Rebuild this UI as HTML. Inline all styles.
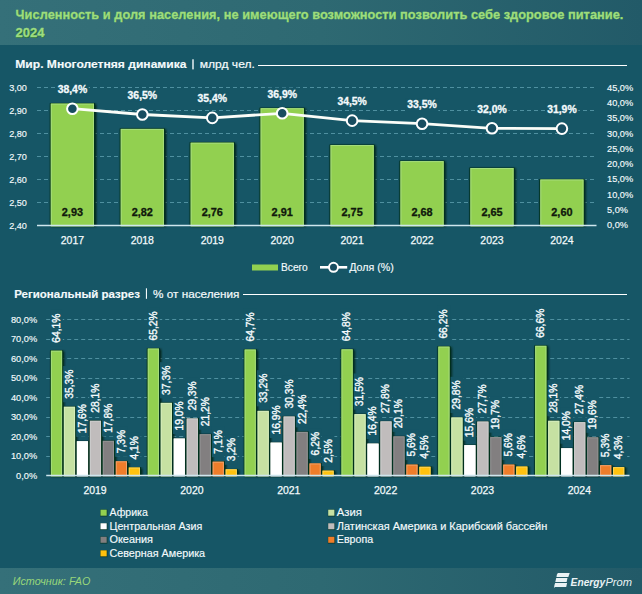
<!DOCTYPE html>
<html><head><meta charset="utf-8"><style>
html,body{margin:0;padding:0;background:#165666;}
body{width:642px;height:594px;overflow:hidden;}
svg{display:block;}
text{font-family:"Liberation Sans", sans-serif;}
</style></head><body>
<svg width="642" height="594" viewBox="0 0 642 594">
<defs>
<linearGradient id="hg" x1="0" y1="0" x2="1" y2="0">
<stop offset="0" stop-color="#357079"/><stop offset="0.5" stop-color="#2e6972"/><stop offset="1" stop-color="#225a68"/>
</linearGradient>
<linearGradient id="fg" x1="0" y1="0" x2="1" y2="0">
<stop offset="0" stop-color="#357079"/><stop offset="0.5" stop-color="#2e6972"/><stop offset="1" stop-color="#225a68"/>
</linearGradient>
<filter id="sh" x="-30%" y="-5%" width="160%" height="110%">
<feGaussianBlur in="SourceAlpha" stdDeviation="1.1"/>
<feOffset dx="1.1" dy="0.8" result="b"/>
<feFlood flood-color="#001f10" flood-opacity="1"/>
<feComposite in2="b" operator="in"/>
<feMerge><feMergeNode/><feMergeNode in="SourceGraphic"/></feMerge>
</filter>
</defs>
<rect x="0" y="0" width="642" height="594" fill="#165666"/>
<rect x="0" y="0" width="642" height="45" fill="url(#hg)"/>
<rect x="0" y="568" width="642" height="26" fill="url(#fg)"/>

<text x="16.2" y="19.3" font-size="13" font-weight="bold" fill="#1d6a30" stroke="#1d6a30" stroke-width="0.2" textLength="607.8" lengthAdjust="spacingAndGlyphs">Численность и доля населения, не имеющего возможности позволить себе здоровое питание.</text>
<text x="16.2" y="37.6" font-size="13" font-weight="bold" fill="#1d6a30" stroke="#1d6a30" stroke-width="0.2" textLength="28.9" lengthAdjust="spacingAndGlyphs">2024</text>
<text x="15.6" y="18.7" font-size="13" font-weight="bold" fill="#9ddc80" stroke="#9ddc80" stroke-width="0.35" textLength="607.8" lengthAdjust="spacingAndGlyphs">Численность и доля населения, не имеющего возможности позволить себе здоровое питание.</text>
<text x="15.6" y="37.0" font-size="13" font-weight="bold" fill="#9ddc80" stroke="#9ddc80" stroke-width="0.35" textLength="28.9" lengthAdjust="spacingAndGlyphs">2024</text>
<text x="15.3" y="68.3" font-size="11.4" font-weight="bold" fill="#f4fafc" stroke="#f4fafc" stroke-width="0.15" textLength="171.2" lengthAdjust="spacingAndGlyphs">Мир. Многолетняя динамика</text>
<rect x="192.3" y="59.3" width="1.4" height="10.1" fill="#f4fafc"/>
<text x="199.7" y="68.3" font-size="11.4" fill="#f4fafc" stroke="#f4fafc" stroke-width="0.2" textLength="55.2" lengthAdjust="spacingAndGlyphs">млрд чел.</text>
<line x1="258" y1="65.5" x2="627" y2="65.5" stroke="#ffffff" stroke-width="1.2"/>
<line x1="37" y1="87.50" x2="596.5" y2="87.50" stroke="#4f90a0" stroke-width="1" stroke-dasharray="4 3"/>
<line x1="37" y1="110.50" x2="596.5" y2="110.50" stroke="#4f90a0" stroke-width="1" stroke-dasharray="4 3"/>
<line x1="37" y1="133.50" x2="596.5" y2="133.50" stroke="#4f90a0" stroke-width="1" stroke-dasharray="4 3"/>
<line x1="37" y1="156.50" x2="596.5" y2="156.50" stroke="#4f90a0" stroke-width="1" stroke-dasharray="4 3"/>
<line x1="37" y1="179.50" x2="596.5" y2="179.50" stroke="#4f90a0" stroke-width="1" stroke-dasharray="4 3"/>
<line x1="37" y1="202.50" x2="596.5" y2="202.50" stroke="#4f90a0" stroke-width="1" stroke-dasharray="4 3"/>
<text x="26.9" y="90.70" font-size="9.7" fill="#f4fafc" stroke="#f4fafc" stroke-width="0.15" text-anchor="end" textLength="17.74" lengthAdjust="spacingAndGlyphs">3,00</text>
<text x="26.9" y="113.70" font-size="9.7" fill="#f4fafc" stroke="#f4fafc" stroke-width="0.15" text-anchor="end" textLength="17.74" lengthAdjust="spacingAndGlyphs">2,90</text>
<text x="26.9" y="136.70" font-size="9.7" fill="#f4fafc" stroke="#f4fafc" stroke-width="0.15" text-anchor="end" textLength="17.74" lengthAdjust="spacingAndGlyphs">2,80</text>
<text x="26.9" y="159.70" font-size="9.7" fill="#f4fafc" stroke="#f4fafc" stroke-width="0.15" text-anchor="end" textLength="17.74" lengthAdjust="spacingAndGlyphs">2,70</text>
<text x="26.9" y="182.70" font-size="9.7" fill="#f4fafc" stroke="#f4fafc" stroke-width="0.15" text-anchor="end" textLength="17.74" lengthAdjust="spacingAndGlyphs">2,60</text>
<text x="26.9" y="205.70" font-size="9.7" fill="#f4fafc" stroke="#f4fafc" stroke-width="0.15" text-anchor="end" textLength="17.74" lengthAdjust="spacingAndGlyphs">2,50</text>
<text x="26.9" y="228.70" font-size="9.7" fill="#f4fafc" stroke="#f4fafc" stroke-width="0.15" text-anchor="end" textLength="17.74" lengthAdjust="spacingAndGlyphs">2,40</text>
<text x="607" y="90.90" font-size="9.7" fill="#f4fafc" stroke="#f4fafc" stroke-width="0.15" textLength="26.13" lengthAdjust="spacingAndGlyphs">45,0%</text>
<text x="607" y="106.16" font-size="9.7" fill="#f4fafc" stroke="#f4fafc" stroke-width="0.15" textLength="26.13" lengthAdjust="spacingAndGlyphs">40,0%</text>
<text x="607" y="121.42" font-size="9.7" fill="#f4fafc" stroke="#f4fafc" stroke-width="0.15" textLength="26.13" lengthAdjust="spacingAndGlyphs">35,0%</text>
<text x="607" y="136.68" font-size="9.7" fill="#f4fafc" stroke="#f4fafc" stroke-width="0.15" textLength="26.13" lengthAdjust="spacingAndGlyphs">30,0%</text>
<text x="607" y="151.94" font-size="9.7" fill="#f4fafc" stroke="#f4fafc" stroke-width="0.15" textLength="26.13" lengthAdjust="spacingAndGlyphs">25,0%</text>
<text x="607" y="167.20" font-size="9.7" fill="#f4fafc" stroke="#f4fafc" stroke-width="0.15" textLength="26.13" lengthAdjust="spacingAndGlyphs">20,0%</text>
<text x="607" y="182.46" font-size="9.7" fill="#f4fafc" stroke="#f4fafc" stroke-width="0.15" textLength="26.13" lengthAdjust="spacingAndGlyphs">15,0%</text>
<text x="607" y="197.72" font-size="9.7" fill="#f4fafc" stroke="#f4fafc" stroke-width="0.15" textLength="26.13" lengthAdjust="spacingAndGlyphs">10,0%</text>
<text x="607" y="212.98" font-size="9.7" fill="#f4fafc" stroke="#f4fafc" stroke-width="0.15" textLength="21.00" lengthAdjust="spacingAndGlyphs">5,0%</text>
<text x="607" y="228.24" font-size="9.7" fill="#f4fafc" stroke="#f4fafc" stroke-width="0.15" textLength="21.00" lengthAdjust="spacingAndGlyphs">0,0%</text>
<rect x="49.80" y="103.10" width="45.3" height="122.40" fill="#06321f" filter="url(#sh)"/>
<rect x="50.80" y="103.60" width="43.2" height="121.90" fill="#92d050"/>
<rect x="51.30" y="104.10" width="42.2" height="121.90" fill="none" stroke="#a6dc7c" stroke-width="1"/>
<text x="72.40" y="215.9" font-size="10.9" font-weight="bold" fill="#10180c" stroke="#10180c" stroke-width="0.3" text-anchor="middle">2,93</text>
<text x="72.40" y="243.6" font-size="10.45" fill="#f4fafc" stroke="#f4fafc" stroke-width="0.25" text-anchor="middle">2017</text>
<rect x="119.73" y="128.40" width="45.3" height="97.10" fill="#06321f" filter="url(#sh)"/>
<rect x="120.73" y="128.90" width="43.2" height="96.60" fill="#92d050"/>
<rect x="121.23" y="129.40" width="42.2" height="96.60" fill="none" stroke="#a6dc7c" stroke-width="1"/>
<text x="142.33" y="215.9" font-size="10.9" font-weight="bold" fill="#10180c" stroke="#10180c" stroke-width="0.3" text-anchor="middle">2,82</text>
<text x="142.33" y="243.6" font-size="10.45" fill="#f4fafc" stroke="#f4fafc" stroke-width="0.25" text-anchor="middle">2018</text>
<rect x="189.66" y="142.20" width="45.3" height="83.30" fill="#06321f" filter="url(#sh)"/>
<rect x="190.66" y="142.70" width="43.2" height="82.80" fill="#92d050"/>
<rect x="191.16" y="143.20" width="42.2" height="82.80" fill="none" stroke="#a6dc7c" stroke-width="1"/>
<text x="212.26" y="215.9" font-size="10.9" font-weight="bold" fill="#10180c" stroke="#10180c" stroke-width="0.3" text-anchor="middle">2,76</text>
<text x="212.26" y="243.6" font-size="10.45" fill="#f4fafc" stroke="#f4fafc" stroke-width="0.25" text-anchor="middle">2019</text>
<rect x="259.59" y="107.70" width="45.3" height="117.80" fill="#06321f" filter="url(#sh)"/>
<rect x="260.59" y="108.20" width="43.2" height="117.30" fill="#92d050"/>
<rect x="261.09" y="108.70" width="42.2" height="117.30" fill="none" stroke="#a6dc7c" stroke-width="1"/>
<text x="282.19" y="215.9" font-size="10.9" font-weight="bold" fill="#10180c" stroke="#10180c" stroke-width="0.3" text-anchor="middle">2,91</text>
<text x="282.19" y="243.6" font-size="10.45" fill="#f4fafc" stroke="#f4fafc" stroke-width="0.25" text-anchor="middle">2020</text>
<rect x="329.52" y="144.50" width="45.3" height="81.00" fill="#06321f" filter="url(#sh)"/>
<rect x="330.52" y="145.00" width="43.2" height="80.50" fill="#92d050"/>
<rect x="331.02" y="145.50" width="42.2" height="80.50" fill="none" stroke="#a6dc7c" stroke-width="1"/>
<text x="352.12" y="215.9" font-size="10.9" font-weight="bold" fill="#10180c" stroke="#10180c" stroke-width="0.3" text-anchor="middle">2,75</text>
<text x="352.12" y="243.6" font-size="10.45" fill="#f4fafc" stroke="#f4fafc" stroke-width="0.25" text-anchor="middle">2021</text>
<rect x="399.45" y="160.60" width="45.3" height="64.90" fill="#06321f" filter="url(#sh)"/>
<rect x="400.45" y="161.10" width="43.2" height="64.40" fill="#92d050"/>
<rect x="400.95" y="161.60" width="42.2" height="64.40" fill="none" stroke="#a6dc7c" stroke-width="1"/>
<text x="422.05" y="215.9" font-size="10.9" font-weight="bold" fill="#10180c" stroke="#10180c" stroke-width="0.3" text-anchor="middle">2,68</text>
<text x="422.05" y="243.6" font-size="10.45" fill="#f4fafc" stroke="#f4fafc" stroke-width="0.25" text-anchor="middle">2022</text>
<rect x="469.38" y="167.50" width="45.3" height="58.00" fill="#06321f" filter="url(#sh)"/>
<rect x="470.38" y="168.00" width="43.2" height="57.50" fill="#92d050"/>
<rect x="470.88" y="168.50" width="42.2" height="57.50" fill="none" stroke="#a6dc7c" stroke-width="1"/>
<text x="491.98" y="215.9" font-size="10.9" font-weight="bold" fill="#10180c" stroke="#10180c" stroke-width="0.3" text-anchor="middle">2,65</text>
<text x="491.98" y="243.6" font-size="10.45" fill="#f4fafc" stroke="#f4fafc" stroke-width="0.25" text-anchor="middle">2023</text>
<rect x="539.31" y="179.00" width="45.3" height="46.50" fill="#06321f" filter="url(#sh)"/>
<rect x="540.31" y="179.50" width="43.2" height="46.00" fill="#92d050"/>
<rect x="540.81" y="180.00" width="42.2" height="46.00" fill="none" stroke="#a6dc7c" stroke-width="1"/>
<text x="561.91" y="215.9" font-size="10.9" font-weight="bold" fill="#10180c" stroke="#10180c" stroke-width="0.3" text-anchor="middle">2,60</text>
<text x="561.91" y="243.6" font-size="10.45" fill="#f4fafc" stroke="#f4fafc" stroke-width="0.25" text-anchor="middle">2024</text>
<line x1="37" y1="225.5" x2="596.5" y2="225.5" stroke="#cfe6ee" stroke-width="1.4"/>
<polyline points="72.40,108.69 142.33,114.52 212.26,117.89 282.19,113.29 352.12,120.65 422.05,123.72 491.98,128.32 561.91,128.62" fill="none" stroke="#fbfdf8" stroke-width="2.8" stroke-linejoin="round"/>
<circle cx="72.40" cy="108.69" r="5.3" fill="#184d60" stroke="#ffffff" stroke-width="2"/>
<rect x="56.16" y="82.99" width="32.49" height="13" fill="#165666"/>
<text x="72.40" y="92.99" font-size="10.4" font-weight="bold" fill="#f4fafc" stroke="#f4fafc" stroke-width="0.3" text-anchor="middle">38,4%</text>
<circle cx="142.33" cy="114.52" r="5.3" fill="#184d60" stroke="#ffffff" stroke-width="2"/>
<rect x="126.09" y="88.82" width="32.49" height="13" fill="#165666"/>
<text x="142.33" y="98.82" font-size="10.4" font-weight="bold" fill="#f4fafc" stroke="#f4fafc" stroke-width="0.3" text-anchor="middle">36,5%</text>
<circle cx="212.26" cy="117.89" r="5.3" fill="#184d60" stroke="#ffffff" stroke-width="2"/>
<rect x="196.02" y="92.19" width="32.49" height="13" fill="#165666"/>
<text x="212.26" y="102.19" font-size="10.4" font-weight="bold" fill="#f4fafc" stroke="#f4fafc" stroke-width="0.3" text-anchor="middle">35,4%</text>
<circle cx="282.19" cy="113.29" r="5.3" fill="#184d60" stroke="#ffffff" stroke-width="2"/>
<rect x="265.95" y="87.59" width="32.49" height="13" fill="#165666"/>
<text x="282.19" y="97.59" font-size="10.4" font-weight="bold" fill="#f4fafc" stroke="#f4fafc" stroke-width="0.3" text-anchor="middle">36,9%</text>
<circle cx="352.12" cy="120.65" r="5.3" fill="#184d60" stroke="#ffffff" stroke-width="2"/>
<rect x="335.88" y="94.95" width="32.49" height="13" fill="#165666"/>
<text x="352.12" y="104.95" font-size="10.4" font-weight="bold" fill="#f4fafc" stroke="#f4fafc" stroke-width="0.3" text-anchor="middle">34,5%</text>
<circle cx="422.05" cy="123.72" r="5.3" fill="#184d60" stroke="#ffffff" stroke-width="2"/>
<rect x="405.81" y="98.02" width="32.49" height="13" fill="#165666"/>
<text x="422.05" y="108.02" font-size="10.4" font-weight="bold" fill="#f4fafc" stroke="#f4fafc" stroke-width="0.3" text-anchor="middle">33,5%</text>
<circle cx="491.98" cy="128.32" r="5.3" fill="#184d60" stroke="#ffffff" stroke-width="2"/>
<rect x="475.74" y="102.62" width="32.49" height="13" fill="#165666"/>
<text x="491.98" y="112.62" font-size="10.4" font-weight="bold" fill="#f4fafc" stroke="#f4fafc" stroke-width="0.3" text-anchor="middle">32,0%</text>
<circle cx="561.91" cy="128.62" r="5.3" fill="#184d60" stroke="#ffffff" stroke-width="2"/>
<rect x="545.67" y="102.92" width="32.49" height="13" fill="#165666"/>
<text x="561.91" y="112.92" font-size="10.4" font-weight="bold" fill="#f4fafc" stroke="#f4fafc" stroke-width="0.3" text-anchor="middle">31,9%</text>
<rect x="252" y="264.5" width="26" height="6" fill="#92d050"/>
<text x="281" y="270.7" font-size="10.2" fill="#f4fafc" stroke="#f4fafc" stroke-width="0.15">Всего</text>
<line x1="320" y1="267.3" x2="347.2" y2="267.3" stroke="#fff" stroke-width="2.6"/>
<circle cx="333.5" cy="267.3" r="4.5" fill="#184d60" stroke="#fff" stroke-width="2"/>
<text x="349.2" y="270.7" font-size="10.7" fill="#f4fafc" stroke="#f4fafc" stroke-width="0.15">Доля (%)</text>
<text x="14.2" y="297.6" font-size="11.4" font-weight="bold" fill="#f4fafc" stroke="#f4fafc" stroke-width="0.15" textLength="125.7" lengthAdjust="spacingAndGlyphs">Региональный разрез</text>
<rect x="145.9" y="288.3" width="1.1" height="10.5" fill="#f4fafc"/>
<text x="153.1" y="297.6" font-size="11.4" fill="#f4fafc" stroke="#f4fafc" stroke-width="0.2" textLength="86.3" lengthAdjust="spacingAndGlyphs">% от населения</text>
<line x1="243" y1="294.5" x2="627" y2="294.5" stroke="#ffffff" stroke-width="1.2"/>
<line x1="46.2" y1="319.50" x2="629.5" y2="319.50" stroke="#4f90a0" stroke-width="1" stroke-dasharray="4 3"/>
<line x1="46.2" y1="339.50" x2="629.5" y2="339.50" stroke="#4f90a0" stroke-width="1" stroke-dasharray="4 3"/>
<line x1="46.2" y1="358.50" x2="629.5" y2="358.50" stroke="#4f90a0" stroke-width="1" stroke-dasharray="4 3"/>
<line x1="46.2" y1="378.50" x2="629.5" y2="378.50" stroke="#4f90a0" stroke-width="1" stroke-dasharray="4 3"/>
<line x1="46.2" y1="397.50" x2="629.5" y2="397.50" stroke="#4f90a0" stroke-width="1" stroke-dasharray="4 3"/>
<line x1="46.2" y1="417.50" x2="629.5" y2="417.50" stroke="#4f90a0" stroke-width="1" stroke-dasharray="4 3"/>
<line x1="46.2" y1="436.50" x2="629.5" y2="436.50" stroke="#4f90a0" stroke-width="1" stroke-dasharray="4 3"/>
<line x1="46.2" y1="456.50" x2="629.5" y2="456.50" stroke="#4f90a0" stroke-width="1" stroke-dasharray="4 3"/>
<text x="37.2" y="322.94" font-size="9.7" fill="#f4fafc" stroke="#f4fafc" stroke-width="0.15" text-anchor="end" textLength="26.26" lengthAdjust="spacingAndGlyphs">80,0%</text>
<text x="37.2" y="342.41" font-size="9.7" fill="#f4fafc" stroke="#f4fafc" stroke-width="0.15" text-anchor="end" textLength="26.26" lengthAdjust="spacingAndGlyphs">70,0%</text>
<text x="37.2" y="361.88" font-size="9.7" fill="#f4fafc" stroke="#f4fafc" stroke-width="0.15" text-anchor="end" textLength="26.26" lengthAdjust="spacingAndGlyphs">60,0%</text>
<text x="37.2" y="381.35" font-size="9.7" fill="#f4fafc" stroke="#f4fafc" stroke-width="0.15" text-anchor="end" textLength="26.26" lengthAdjust="spacingAndGlyphs">50,0%</text>
<text x="37.2" y="400.82" font-size="9.7" fill="#f4fafc" stroke="#f4fafc" stroke-width="0.15" text-anchor="end" textLength="26.26" lengthAdjust="spacingAndGlyphs">40,0%</text>
<text x="37.2" y="420.29" font-size="9.7" fill="#f4fafc" stroke="#f4fafc" stroke-width="0.15" text-anchor="end" textLength="26.26" lengthAdjust="spacingAndGlyphs">30,0%</text>
<text x="37.2" y="439.76" font-size="9.7" fill="#f4fafc" stroke="#f4fafc" stroke-width="0.15" text-anchor="end" textLength="26.26" lengthAdjust="spacingAndGlyphs">20,0%</text>
<text x="37.2" y="459.23" font-size="9.7" fill="#f4fafc" stroke="#f4fafc" stroke-width="0.15" text-anchor="end" textLength="26.26" lengthAdjust="spacingAndGlyphs">10,0%</text>
<text x="37.2" y="478.70" font-size="9.7" fill="#f4fafc" stroke="#f4fafc" stroke-width="0.15" text-anchor="end" textLength="21.11" lengthAdjust="spacingAndGlyphs">0,0%</text>
<rect x="50.00" y="350.30" width="13.2" height="125.20" fill="#06321f" filter="url(#sh)"/>
<rect x="50.90" y="350.70" width="11.2" height="124.80" fill="#92d050"/>
<rect x="51.40" y="351.20" width="10.2" height="124.80" fill="none" stroke="#a6dc7c" stroke-width="1"/>
<rect x="50.20" y="309.99" width="12.6" height="36.20" fill="#165666"/>
<text transform="translate(59.90,342.70) rotate(-90)" font-size="10.3" fill="#f4fafc" stroke="#f4fafc" stroke-width="0.38">64,1%</text>
<rect x="62.98" y="406.37" width="13.2" height="69.13" fill="#06321f" filter="url(#sh)"/>
<rect x="63.88" y="406.77" width="11.2" height="68.73" fill="#c6e1a2"/>
<rect x="64.38" y="407.27" width="10.2" height="68.73" fill="none" stroke="#d6ecbc" stroke-width="1"/>
<rect x="63.18" y="366.07" width="12.6" height="36.20" fill="#165666"/>
<text transform="translate(72.88,398.77) rotate(-90)" font-size="10.3" fill="#f4fafc" stroke="#f4fafc" stroke-width="0.38">35,3%</text>
<rect x="75.96" y="440.83" width="13.2" height="34.67" fill="#06321f" filter="url(#sh)"/>
<rect x="76.86" y="441.23" width="11.2" height="34.27" fill="#ffffff"/>
<rect x="77.36" y="441.73" width="10.2" height="34.27" fill="none" stroke="#ffffff" stroke-width="1"/>
<rect x="76.16" y="400.53" width="12.6" height="36.20" fill="#165666"/>
<text transform="translate(85.86,433.23) rotate(-90)" font-size="10.3" fill="#f4fafc" stroke="#f4fafc" stroke-width="0.38">17,6%</text>
<rect x="88.94" y="420.39" width="13.2" height="55.11" fill="#06321f" filter="url(#sh)"/>
<rect x="89.84" y="420.79" width="11.2" height="54.71" fill="#c0bcbc"/>
<rect x="90.34" y="421.29" width="10.2" height="54.71" fill="none" stroke="#cccccc" stroke-width="1"/>
<rect x="89.14" y="380.09" width="12.6" height="36.20" fill="#165666"/>
<text transform="translate(98.84,412.79) rotate(-90)" font-size="10.3" fill="#f4fafc" stroke="#f4fafc" stroke-width="0.38">28,1%</text>
<rect x="101.92" y="440.44" width="13.2" height="35.06" fill="#06321f" filter="url(#sh)"/>
<rect x="102.82" y="440.84" width="11.2" height="34.66" fill="#827f80"/>
<rect x="103.32" y="441.34" width="10.2" height="34.66" fill="none" stroke="#929292" stroke-width="1"/>
<rect x="102.12" y="400.14" width="12.6" height="36.20" fill="#165666"/>
<text transform="translate(111.82,432.84) rotate(-90)" font-size="10.3" fill="#f4fafc" stroke="#f4fafc" stroke-width="0.38">17,8%</text>
<rect x="114.90" y="460.89" width="13.2" height="14.61" fill="#06321f" filter="url(#sh)"/>
<rect x="115.80" y="461.29" width="11.2" height="14.21" fill="#ef7d2a"/>
<rect x="116.30" y="461.79" width="10.2" height="14.21" fill="none" stroke="#f2a06a" stroke-width="1"/>
<rect x="115.10" y="426.31" width="12.6" height="30.48" fill="#165666"/>
<text transform="translate(124.80,453.29) rotate(-90)" font-size="10.3" fill="#f4fafc" stroke="#f4fafc" stroke-width="0.38">7,3%</text>
<rect x="127.88" y="467.12" width="13.2" height="8.38" fill="#06321f" filter="url(#sh)"/>
<rect x="128.78" y="467.52" width="11.2" height="7.98" fill="#ffc20e"/>
<rect x="129.28" y="468.02" width="10.2" height="7.98" fill="none" stroke="#fbd35a" stroke-width="1"/>
<rect x="128.08" y="432.54" width="12.6" height="30.48" fill="#165666"/>
<text transform="translate(137.78,459.52) rotate(-90)" font-size="10.3" fill="#f4fafc" stroke="#f4fafc" stroke-width="0.38">4,1%</text>
<text x="95.05" y="493.6" font-size="10.45" fill="#f4fafc" stroke="#f4fafc" stroke-width="0.25" text-anchor="middle">2019</text>
<rect x="146.86" y="348.16" width="13.2" height="127.34" fill="#06321f" filter="url(#sh)"/>
<rect x="147.76" y="348.56" width="11.2" height="126.94" fill="#92d050"/>
<rect x="148.26" y="349.06" width="10.2" height="126.94" fill="none" stroke="#a6dc7c" stroke-width="1"/>
<rect x="147.06" y="307.85" width="12.6" height="36.20" fill="#165666"/>
<text transform="translate(156.76,340.56) rotate(-90)" font-size="10.3" fill="#f4fafc" stroke="#f4fafc" stroke-width="0.38">65,2%</text>
<rect x="159.84" y="402.48" width="13.2" height="73.02" fill="#06321f" filter="url(#sh)"/>
<rect x="160.74" y="402.88" width="11.2" height="72.62" fill="#c6e1a2"/>
<rect x="161.24" y="403.38" width="10.2" height="72.62" fill="none" stroke="#d6ecbc" stroke-width="1"/>
<rect x="160.04" y="362.17" width="12.6" height="36.20" fill="#165666"/>
<text transform="translate(169.74,394.88) rotate(-90)" font-size="10.3" fill="#f4fafc" stroke="#f4fafc" stroke-width="0.38">37,3%</text>
<rect x="172.82" y="438.11" width="13.2" height="37.39" fill="#06321f" filter="url(#sh)"/>
<rect x="173.72" y="438.51" width="11.2" height="36.99" fill="#ffffff"/>
<rect x="174.22" y="439.01" width="10.2" height="36.99" fill="none" stroke="#ffffff" stroke-width="1"/>
<rect x="173.02" y="397.80" width="12.6" height="36.20" fill="#165666"/>
<text transform="translate(182.72,430.51) rotate(-90)" font-size="10.3" fill="#f4fafc" stroke="#f4fafc" stroke-width="0.38">19,0%</text>
<rect x="185.80" y="418.05" width="13.2" height="57.45" fill="#06321f" filter="url(#sh)"/>
<rect x="186.70" y="418.45" width="11.2" height="57.05" fill="#c0bcbc"/>
<rect x="187.20" y="418.95" width="10.2" height="57.05" fill="none" stroke="#cccccc" stroke-width="1"/>
<rect x="186.00" y="377.75" width="12.6" height="36.20" fill="#165666"/>
<text transform="translate(195.70,410.45) rotate(-90)" font-size="10.3" fill="#f4fafc" stroke="#f4fafc" stroke-width="0.38">29,3%</text>
<rect x="198.78" y="433.82" width="13.2" height="41.68" fill="#06321f" filter="url(#sh)"/>
<rect x="199.68" y="434.22" width="11.2" height="41.28" fill="#827f80"/>
<rect x="200.18" y="434.72" width="10.2" height="41.28" fill="none" stroke="#929292" stroke-width="1"/>
<rect x="198.98" y="393.52" width="12.6" height="36.20" fill="#165666"/>
<text transform="translate(208.68,426.22) rotate(-90)" font-size="10.3" fill="#f4fafc" stroke="#f4fafc" stroke-width="0.38">21,2%</text>
<rect x="211.76" y="461.28" width="13.2" height="14.22" fill="#06321f" filter="url(#sh)"/>
<rect x="212.66" y="461.68" width="11.2" height="13.82" fill="#ef7d2a"/>
<rect x="213.16" y="462.18" width="10.2" height="13.82" fill="none" stroke="#f2a06a" stroke-width="1"/>
<rect x="211.96" y="426.70" width="12.6" height="30.48" fill="#165666"/>
<text transform="translate(221.66,453.68) rotate(-90)" font-size="10.3" fill="#f4fafc" stroke="#f4fafc" stroke-width="0.38">7,1%</text>
<rect x="224.74" y="468.87" width="13.2" height="6.63" fill="#06321f" filter="url(#sh)"/>
<rect x="225.64" y="469.27" width="11.2" height="6.23" fill="#ffc20e"/>
<rect x="226.14" y="469.77" width="10.2" height="6.23" fill="none" stroke="#fbd35a" stroke-width="1"/>
<rect x="224.94" y="434.29" width="12.6" height="30.48" fill="#165666"/>
<text transform="translate(234.64,461.27) rotate(-90)" font-size="10.3" fill="#f4fafc" stroke="#f4fafc" stroke-width="0.38">3,2%</text>
<text x="191.91" y="493.6" font-size="10.45" fill="#f4fafc" stroke="#f4fafc" stroke-width="0.25" text-anchor="middle">2020</text>
<rect x="243.72" y="349.13" width="13.2" height="126.37" fill="#06321f" filter="url(#sh)"/>
<rect x="244.62" y="349.53" width="11.2" height="125.97" fill="#92d050"/>
<rect x="245.12" y="350.03" width="10.2" height="125.97" fill="none" stroke="#a6dc7c" stroke-width="1"/>
<rect x="243.92" y="308.83" width="12.6" height="36.20" fill="#165666"/>
<text transform="translate(253.62,341.53) rotate(-90)" font-size="10.3" fill="#f4fafc" stroke="#f4fafc" stroke-width="0.38">64,7%</text>
<rect x="256.70" y="410.46" width="13.2" height="65.04" fill="#06321f" filter="url(#sh)"/>
<rect x="257.60" y="410.86" width="11.2" height="64.64" fill="#c6e1a2"/>
<rect x="258.10" y="411.36" width="10.2" height="64.64" fill="none" stroke="#d6ecbc" stroke-width="1"/>
<rect x="256.90" y="370.16" width="12.6" height="36.20" fill="#165666"/>
<text transform="translate(266.60,402.86) rotate(-90)" font-size="10.3" fill="#f4fafc" stroke="#f4fafc" stroke-width="0.38">33,2%</text>
<rect x="269.68" y="442.20" width="13.2" height="33.30" fill="#06321f" filter="url(#sh)"/>
<rect x="270.58" y="442.60" width="11.2" height="32.90" fill="#ffffff"/>
<rect x="271.08" y="443.10" width="10.2" height="32.90" fill="none" stroke="#ffffff" stroke-width="1"/>
<rect x="269.88" y="401.89" width="12.6" height="36.20" fill="#165666"/>
<text transform="translate(279.58,434.60) rotate(-90)" font-size="10.3" fill="#f4fafc" stroke="#f4fafc" stroke-width="0.38">16,9%</text>
<rect x="282.66" y="416.11" width="13.2" height="59.39" fill="#06321f" filter="url(#sh)"/>
<rect x="283.56" y="416.51" width="11.2" height="58.99" fill="#c0bcbc"/>
<rect x="284.06" y="417.01" width="10.2" height="58.99" fill="none" stroke="#cccccc" stroke-width="1"/>
<rect x="282.86" y="375.80" width="12.6" height="36.20" fill="#165666"/>
<text transform="translate(292.56,408.51) rotate(-90)" font-size="10.3" fill="#f4fafc" stroke="#f4fafc" stroke-width="0.38">30,3%</text>
<rect x="295.64" y="431.49" width="13.2" height="44.01" fill="#06321f" filter="url(#sh)"/>
<rect x="296.54" y="431.89" width="11.2" height="43.61" fill="#827f80"/>
<rect x="297.04" y="432.39" width="10.2" height="43.61" fill="none" stroke="#929292" stroke-width="1"/>
<rect x="295.84" y="391.18" width="12.6" height="36.20" fill="#165666"/>
<text transform="translate(305.54,423.89) rotate(-90)" font-size="10.3" fill="#f4fafc" stroke="#f4fafc" stroke-width="0.38">22,4%</text>
<rect x="308.62" y="463.03" width="13.2" height="12.47" fill="#06321f" filter="url(#sh)"/>
<rect x="309.52" y="463.43" width="11.2" height="12.07" fill="#ef7d2a"/>
<rect x="310.02" y="463.93" width="10.2" height="12.07" fill="none" stroke="#f2a06a" stroke-width="1"/>
<rect x="308.82" y="428.45" width="12.6" height="30.48" fill="#165666"/>
<text transform="translate(318.52,455.43) rotate(-90)" font-size="10.3" fill="#f4fafc" stroke="#f4fafc" stroke-width="0.38">6,2%</text>
<rect x="321.60" y="470.23" width="13.2" height="5.27" fill="#06321f" filter="url(#sh)"/>
<rect x="322.50" y="470.63" width="11.2" height="4.87" fill="#ffc20e"/>
<rect x="323.00" y="471.13" width="10.2" height="4.87" fill="none" stroke="#fbd35a" stroke-width="1"/>
<rect x="321.80" y="435.66" width="12.6" height="30.48" fill="#165666"/>
<text transform="translate(331.50,462.63) rotate(-90)" font-size="10.3" fill="#f4fafc" stroke="#f4fafc" stroke-width="0.38">2,5%</text>
<text x="288.77" y="493.6" font-size="10.45" fill="#f4fafc" stroke="#f4fafc" stroke-width="0.25" text-anchor="middle">2021</text>
<rect x="340.58" y="348.93" width="13.2" height="126.57" fill="#06321f" filter="url(#sh)"/>
<rect x="341.48" y="349.33" width="11.2" height="126.17" fill="#92d050"/>
<rect x="341.98" y="349.83" width="10.2" height="126.17" fill="none" stroke="#a6dc7c" stroke-width="1"/>
<rect x="340.78" y="308.63" width="12.6" height="36.20" fill="#165666"/>
<text transform="translate(350.48,341.33) rotate(-90)" font-size="10.3" fill="#f4fafc" stroke="#f4fafc" stroke-width="0.38">64,8%</text>
<rect x="353.56" y="413.77" width="13.2" height="61.73" fill="#06321f" filter="url(#sh)"/>
<rect x="354.46" y="414.17" width="11.2" height="61.33" fill="#c6e1a2"/>
<rect x="354.96" y="414.67" width="10.2" height="61.33" fill="none" stroke="#d6ecbc" stroke-width="1"/>
<rect x="353.76" y="373.47" width="12.6" height="36.20" fill="#165666"/>
<text transform="translate(363.46,406.17) rotate(-90)" font-size="10.3" fill="#f4fafc" stroke="#f4fafc" stroke-width="0.38">31,5%</text>
<rect x="366.54" y="443.17" width="13.2" height="32.33" fill="#06321f" filter="url(#sh)"/>
<rect x="367.44" y="443.57" width="11.2" height="31.93" fill="#ffffff"/>
<rect x="367.94" y="444.07" width="10.2" height="31.93" fill="none" stroke="#ffffff" stroke-width="1"/>
<rect x="366.74" y="402.87" width="12.6" height="36.20" fill="#165666"/>
<text transform="translate(376.44,435.57) rotate(-90)" font-size="10.3" fill="#f4fafc" stroke="#f4fafc" stroke-width="0.38">16,4%</text>
<rect x="379.52" y="420.97" width="13.2" height="54.53" fill="#06321f" filter="url(#sh)"/>
<rect x="380.42" y="421.37" width="11.2" height="54.13" fill="#c0bcbc"/>
<rect x="380.92" y="421.87" width="10.2" height="54.13" fill="none" stroke="#cccccc" stroke-width="1"/>
<rect x="379.72" y="380.67" width="12.6" height="36.20" fill="#165666"/>
<text transform="translate(389.42,413.37) rotate(-90)" font-size="10.3" fill="#f4fafc" stroke="#f4fafc" stroke-width="0.38">27,8%</text>
<rect x="392.50" y="435.97" width="13.2" height="39.53" fill="#06321f" filter="url(#sh)"/>
<rect x="393.40" y="436.37" width="11.2" height="39.13" fill="#827f80"/>
<rect x="393.90" y="436.87" width="10.2" height="39.13" fill="none" stroke="#929292" stroke-width="1"/>
<rect x="392.70" y="395.66" width="12.6" height="36.20" fill="#165666"/>
<text transform="translate(402.40,428.37) rotate(-90)" font-size="10.3" fill="#f4fafc" stroke="#f4fafc" stroke-width="0.38">20,1%</text>
<rect x="405.48" y="464.20" width="13.2" height="11.30" fill="#06321f" filter="url(#sh)"/>
<rect x="406.38" y="464.60" width="11.2" height="10.90" fill="#ef7d2a"/>
<rect x="406.88" y="465.10" width="10.2" height="10.90" fill="none" stroke="#f2a06a" stroke-width="1"/>
<rect x="405.68" y="429.62" width="12.6" height="30.48" fill="#165666"/>
<text transform="translate(415.38,456.60) rotate(-90)" font-size="10.3" fill="#f4fafc" stroke="#f4fafc" stroke-width="0.38">5,6%</text>
<rect x="418.46" y="466.34" width="13.2" height="9.16" fill="#06321f" filter="url(#sh)"/>
<rect x="419.36" y="466.74" width="11.2" height="8.76" fill="#ffc20e"/>
<rect x="419.86" y="467.24" width="10.2" height="8.76" fill="none" stroke="#fbd35a" stroke-width="1"/>
<rect x="418.66" y="431.76" width="12.6" height="30.48" fill="#165666"/>
<text transform="translate(428.36,458.74) rotate(-90)" font-size="10.3" fill="#f4fafc" stroke="#f4fafc" stroke-width="0.38">4,5%</text>
<text x="385.63" y="493.6" font-size="10.45" fill="#f4fafc" stroke="#f4fafc" stroke-width="0.25" text-anchor="middle">2022</text>
<rect x="437.44" y="346.21" width="13.2" height="129.29" fill="#06321f" filter="url(#sh)"/>
<rect x="438.34" y="346.61" width="11.2" height="128.89" fill="#92d050"/>
<rect x="438.84" y="347.11" width="10.2" height="128.89" fill="none" stroke="#a6dc7c" stroke-width="1"/>
<rect x="437.64" y="305.90" width="12.6" height="36.20" fill="#165666"/>
<text transform="translate(447.34,338.61) rotate(-90)" font-size="10.3" fill="#f4fafc" stroke="#f4fafc" stroke-width="0.38">66,2%</text>
<rect x="450.42" y="417.08" width="13.2" height="58.42" fill="#06321f" filter="url(#sh)"/>
<rect x="451.32" y="417.48" width="11.2" height="58.02" fill="#c6e1a2"/>
<rect x="451.82" y="417.98" width="10.2" height="58.02" fill="none" stroke="#d6ecbc" stroke-width="1"/>
<rect x="450.62" y="376.78" width="12.6" height="36.20" fill="#165666"/>
<text transform="translate(460.32,409.48) rotate(-90)" font-size="10.3" fill="#f4fafc" stroke="#f4fafc" stroke-width="0.38">29,8%</text>
<rect x="463.40" y="444.73" width="13.2" height="30.77" fill="#06321f" filter="url(#sh)"/>
<rect x="464.30" y="445.13" width="11.2" height="30.37" fill="#ffffff"/>
<rect x="464.80" y="445.63" width="10.2" height="30.37" fill="none" stroke="#ffffff" stroke-width="1"/>
<rect x="463.60" y="404.42" width="12.6" height="36.20" fill="#165666"/>
<text transform="translate(473.30,437.13) rotate(-90)" font-size="10.3" fill="#f4fafc" stroke="#f4fafc" stroke-width="0.38">15,6%</text>
<rect x="476.38" y="421.17" width="13.2" height="54.33" fill="#06321f" filter="url(#sh)"/>
<rect x="477.28" y="421.57" width="11.2" height="53.93" fill="#c0bcbc"/>
<rect x="477.78" y="422.07" width="10.2" height="53.93" fill="none" stroke="#cccccc" stroke-width="1"/>
<rect x="476.58" y="380.86" width="12.6" height="36.20" fill="#165666"/>
<text transform="translate(486.28,413.57) rotate(-90)" font-size="10.3" fill="#f4fafc" stroke="#f4fafc" stroke-width="0.38">27,7%</text>
<rect x="489.36" y="436.74" width="13.2" height="38.76" fill="#06321f" filter="url(#sh)"/>
<rect x="490.26" y="437.14" width="11.2" height="38.36" fill="#827f80"/>
<rect x="490.76" y="437.64" width="10.2" height="38.36" fill="none" stroke="#929292" stroke-width="1"/>
<rect x="489.56" y="396.44" width="12.6" height="36.20" fill="#165666"/>
<text transform="translate(499.26,429.14) rotate(-90)" font-size="10.3" fill="#f4fafc" stroke="#f4fafc" stroke-width="0.38">19,7%</text>
<rect x="502.34" y="464.20" width="13.2" height="11.30" fill="#06321f" filter="url(#sh)"/>
<rect x="503.24" y="464.60" width="11.2" height="10.90" fill="#ef7d2a"/>
<rect x="503.74" y="465.10" width="10.2" height="10.90" fill="none" stroke="#f2a06a" stroke-width="1"/>
<rect x="502.54" y="429.62" width="12.6" height="30.48" fill="#165666"/>
<text transform="translate(512.24,456.60) rotate(-90)" font-size="10.3" fill="#f4fafc" stroke="#f4fafc" stroke-width="0.38">5,6%</text>
<rect x="515.32" y="466.14" width="13.2" height="9.36" fill="#06321f" filter="url(#sh)"/>
<rect x="516.22" y="466.54" width="11.2" height="8.96" fill="#ffc20e"/>
<rect x="516.72" y="467.04" width="10.2" height="8.96" fill="none" stroke="#fbd35a" stroke-width="1"/>
<rect x="515.52" y="431.57" width="12.6" height="30.48" fill="#165666"/>
<text transform="translate(525.22,458.54) rotate(-90)" font-size="10.3" fill="#f4fafc" stroke="#f4fafc" stroke-width="0.38">4,6%</text>
<text x="482.49" y="493.6" font-size="10.45" fill="#f4fafc" stroke="#f4fafc" stroke-width="0.25" text-anchor="middle">2023</text>
<rect x="534.30" y="345.43" width="13.2" height="130.07" fill="#06321f" filter="url(#sh)"/>
<rect x="535.20" y="345.83" width="11.2" height="129.67" fill="#92d050"/>
<rect x="535.70" y="346.33" width="10.2" height="129.67" fill="none" stroke="#a6dc7c" stroke-width="1"/>
<rect x="534.50" y="305.13" width="12.6" height="36.20" fill="#165666"/>
<text transform="translate(544.20,337.83) rotate(-90)" font-size="10.3" fill="#f4fafc" stroke="#f4fafc" stroke-width="0.38">66,6%</text>
<rect x="547.28" y="420.39" width="13.2" height="55.11" fill="#06321f" filter="url(#sh)"/>
<rect x="548.18" y="420.79" width="11.2" height="54.71" fill="#c6e1a2"/>
<rect x="548.68" y="421.29" width="10.2" height="54.71" fill="none" stroke="#d6ecbc" stroke-width="1"/>
<rect x="547.48" y="380.09" width="12.6" height="36.20" fill="#165666"/>
<text transform="translate(557.18,412.79) rotate(-90)" font-size="10.3" fill="#f4fafc" stroke="#f4fafc" stroke-width="0.38">28,1%</text>
<rect x="560.26" y="447.84" width="13.2" height="27.66" fill="#06321f" filter="url(#sh)"/>
<rect x="561.16" y="448.24" width="11.2" height="27.26" fill="#ffffff"/>
<rect x="561.66" y="448.74" width="10.2" height="27.26" fill="none" stroke="#ffffff" stroke-width="1"/>
<rect x="560.46" y="407.54" width="12.6" height="36.20" fill="#165666"/>
<text transform="translate(570.16,440.24) rotate(-90)" font-size="10.3" fill="#f4fafc" stroke="#f4fafc" stroke-width="0.38">14,0%</text>
<rect x="573.24" y="421.75" width="13.2" height="53.75" fill="#06321f" filter="url(#sh)"/>
<rect x="574.14" y="422.15" width="11.2" height="53.35" fill="#c0bcbc"/>
<rect x="574.64" y="422.65" width="10.2" height="53.35" fill="none" stroke="#cccccc" stroke-width="1"/>
<rect x="573.44" y="381.45" width="12.6" height="36.20" fill="#165666"/>
<text transform="translate(583.14,414.15) rotate(-90)" font-size="10.3" fill="#f4fafc" stroke="#f4fafc" stroke-width="0.38">27,4%</text>
<rect x="586.22" y="436.94" width="13.2" height="38.56" fill="#06321f" filter="url(#sh)"/>
<rect x="587.12" y="437.34" width="11.2" height="38.16" fill="#827f80"/>
<rect x="587.62" y="437.84" width="10.2" height="38.16" fill="none" stroke="#929292" stroke-width="1"/>
<rect x="586.42" y="396.64" width="12.6" height="36.20" fill="#165666"/>
<text transform="translate(596.12,429.34) rotate(-90)" font-size="10.3" fill="#f4fafc" stroke="#f4fafc" stroke-width="0.38">19,6%</text>
<rect x="599.20" y="464.78" width="13.2" height="10.72" fill="#06321f" filter="url(#sh)"/>
<rect x="600.10" y="465.18" width="11.2" height="10.32" fill="#ef7d2a"/>
<rect x="600.60" y="465.68" width="10.2" height="10.32" fill="none" stroke="#f2a06a" stroke-width="1"/>
<rect x="599.40" y="430.20" width="12.6" height="30.48" fill="#165666"/>
<text transform="translate(609.10,457.18) rotate(-90)" font-size="10.3" fill="#f4fafc" stroke="#f4fafc" stroke-width="0.38">5,3%</text>
<rect x="612.18" y="466.73" width="13.2" height="8.77" fill="#06321f" filter="url(#sh)"/>
<rect x="613.08" y="467.13" width="11.2" height="8.37" fill="#ffc20e"/>
<rect x="613.58" y="467.63" width="10.2" height="8.37" fill="none" stroke="#fbd35a" stroke-width="1"/>
<rect x="612.38" y="432.15" width="12.6" height="30.48" fill="#165666"/>
<text transform="translate(622.08,459.13) rotate(-90)" font-size="10.3" fill="#f4fafc" stroke="#f4fafc" stroke-width="0.38">4,3%</text>
<text x="579.35" y="493.6" font-size="10.45" fill="#f4fafc" stroke="#f4fafc" stroke-width="0.25" text-anchor="middle">2024</text>
<line x1="46.2" y1="475.5" x2="629.5" y2="475.5" stroke="#cfe6ee" stroke-width="1.4"/>
<rect x="100.2" y="509.50" width="7.2" height="7" fill="#08321f" opacity="0.8"/>
<rect x="100.5" y="509.70" width="6.2" height="6" fill="#92d050"/>
<text x="109.5" y="516.20" font-size="10.4" fill="#f4fafc" stroke="#f4fafc" stroke-width="0.15" textLength="38.3" lengthAdjust="spacingAndGlyphs">Африка</text>
<rect x="327.9" y="509.50" width="7.2" height="7" fill="#08321f" opacity="0.8"/>
<rect x="328.2" y="509.70" width="6.2" height="6" fill="#c6e1a2"/>
<text x="336.8" y="516.20" font-size="10.4" fill="#f4fafc" stroke="#f4fafc" stroke-width="0.15" textLength="25.1" lengthAdjust="spacingAndGlyphs">Азия</text>
<rect x="100.2" y="523.05" width="7.2" height="7" fill="#08321f" opacity="0.8"/>
<rect x="100.5" y="523.25" width="6.2" height="6" fill="#ffffff"/>
<text x="109.5" y="529.75" font-size="10.4" fill="#f4fafc" stroke="#f4fafc" stroke-width="0.15" textLength="92.7" lengthAdjust="spacingAndGlyphs">Центральная Азия</text>
<rect x="327.9" y="523.05" width="7.2" height="7" fill="#08321f" opacity="0.8"/>
<rect x="328.2" y="523.25" width="6.2" height="6" fill="#c0bcbc"/>
<text x="336.8" y="529.75" font-size="10.4" fill="#f4fafc" stroke="#f4fafc" stroke-width="0.15" textLength="210.5" lengthAdjust="spacingAndGlyphs">Латинская Америка и Карибский бассейн</text>
<rect x="100.2" y="536.60" width="7.2" height="7" fill="#08321f" opacity="0.8"/>
<rect x="100.5" y="536.80" width="6.2" height="6" fill="#827f80"/>
<text x="109.5" y="543.30" font-size="10.4" fill="#f4fafc" stroke="#f4fafc" stroke-width="0.15" textLength="43.5" lengthAdjust="spacingAndGlyphs">Океания</text>
<rect x="327.9" y="536.60" width="7.2" height="7" fill="#08321f" opacity="0.8"/>
<rect x="328.2" y="536.80" width="6.2" height="6" fill="#ef7d2a"/>
<text x="336.8" y="543.30" font-size="10.4" fill="#f4fafc" stroke="#f4fafc" stroke-width="0.15" textLength="36.3" lengthAdjust="spacingAndGlyphs">Европа</text>
<rect x="100.2" y="550.15" width="7.2" height="7" fill="#08321f" opacity="0.8"/>
<rect x="100.5" y="550.35" width="6.2" height="6" fill="#ffc20e"/>
<text x="109.5" y="556.85" font-size="10.4" fill="#f4fafc" stroke="#f4fafc" stroke-width="0.15" textLength="95.6" lengthAdjust="spacingAndGlyphs">Северная Америка</text>
<text x="12.7" y="585" font-size="11" font-style="italic" fill="#98d67a" textLength="77.6" lengthAdjust="spacingAndGlyphs">Источник: FAO</text>
<g fill="#eaf3f5"><path d="M557.9,573 L569.7,573 L568.4,577.1 L556.5,577.1 Q556.6,574.2 557.9,573 Z"/><path d="M556.2,578.1 L567.5,578.1 L566.6,581.9 L555.3,581.9 Z"/><path d="M555.1,582.9 L567.1,582.9 L566.2,587 L555,587 Q554.4,587.6 553.9,588.2 Q554.2,585 555.1,582.9 Z"/></g>
<text x="570.6" y="586.1" font-size="11.2" font-style="italic" font-weight="bold" fill="#eaf3f5" textLength="34.6" lengthAdjust="spacingAndGlyphs">Energy</text>
<text x="605.4" y="586.1" font-size="11.2" font-style="italic" fill="#eaf3f5" textLength="26.6" lengthAdjust="spacingAndGlyphs">Prom</text>
</svg></body></html>
